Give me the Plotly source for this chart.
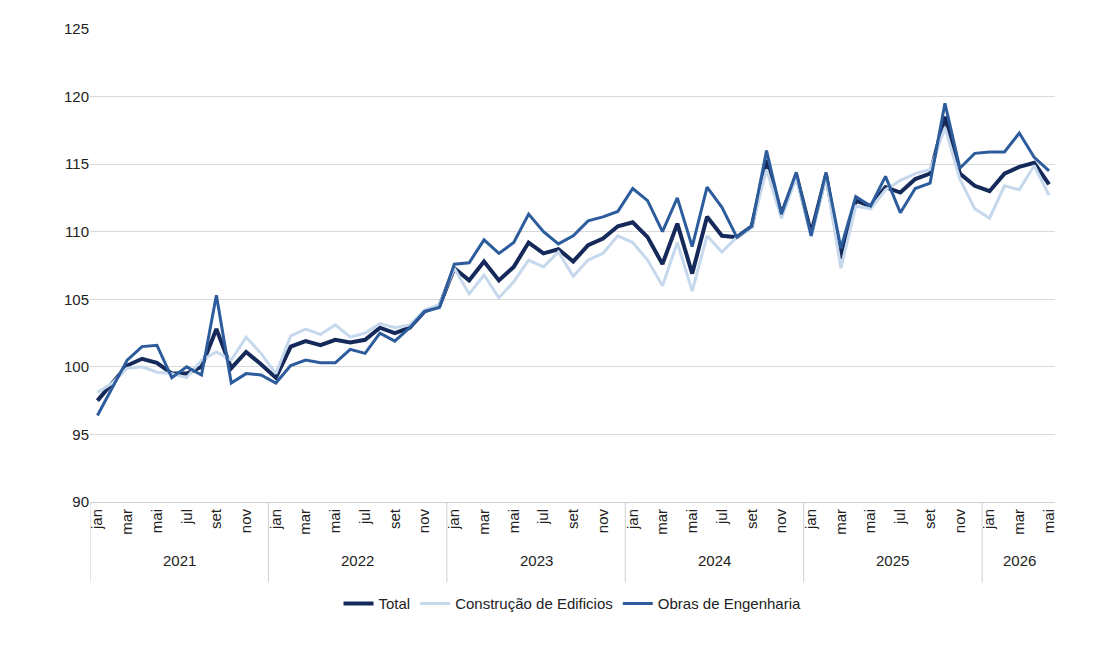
import plotly.graph_objects as go

months = ["jan", "fev", "mar", "abr", "mai", "jun", "jul", "ago", "set", "out", "nov", "dez"]
years = [2021, 2022, 2023, 2024, 2025, 2026]

total = [97.5, 98.8, 100.1, 100.6, 100.3, 99.5, 99.5, 100.0, 102.8, 99.9, 101.1, 100.2,
         99.2, 101.5, 101.9, 101.6, 102.0, 101.8, 102.0, 102.9, 102.5, 102.9, 104.1, 104.5,
         107.3, 106.4, 107.8, 106.4, 107.4, 109.2, 108.4, 108.7, 107.8, 109.0, 109.5, 110.4,
         110.7, 109.6, 107.6, 110.6, 106.9, 111.1, 109.7, 109.6, 110.4, 115.3, 111.3, 114.2,
         109.9, 114.2, 108.0, 112.3, 111.9, 113.3, 112.9, 113.9, 114.3, 118.5, 114.3, 113.4,
         113.0, 114.3, 114.8, 115.1, 113.5]
edificios = [98.1, 98.8, 99.9, 100.0, 99.6, 99.5, 99.2, 100.5, 101.1, 100.5, 102.2, 101.0,
             99.5, 102.3, 102.8, 102.4, 103.1, 102.2, 102.5, 103.2, 102.9, 103.1, 104.2, 104.6,
             107.3, 105.4, 106.8, 105.1, 106.3, 107.9, 107.4, 108.5, 106.7, 107.9, 108.4, 109.7,
             109.2, 107.9, 106.0, 109.2, 105.6, 109.7, 108.5, 109.6, 110.3, 114.6, 111.0, 114.0,
             109.6, 114.0, 107.3, 111.9, 111.7, 113.1, 113.8, 114.3, 114.6, 117.7, 113.9, 111.7,
             111.0, 113.4, 113.1, 114.9, 112.7]
obras = [96.4, 98.5, 100.5, 101.5, 101.6, 99.2, 100.0, 99.4, 105.3, 98.8, 99.5, 99.4,
         98.8, 100.1, 100.5, 100.3, 100.3, 101.3, 101.0, 102.5, 101.9, 102.9, 104.1, 104.4,
         107.6, 107.7, 109.4, 108.4, 109.2, 111.3, 110.0, 109.1, 109.7, 110.8, 111.1, 111.5,
         113.2, 112.3, 110.0, 112.5, 108.9, 113.3, 111.8, 109.6, 110.4, 116.0, 111.3, 114.4,
         109.7, 114.4, 108.8, 112.6, 111.9, 114.1, 111.4, 113.2, 113.6, 119.5, 114.7, 115.8,
         115.9, 115.9, 117.3, 115.5, 114.5]

n = len(total)
x = list(range(n))
labels = [months[i % 12] for i in range(n)]

fig = go.Figure()
fig.add_trace(go.Scatter(x=x, y=total, name="Total", mode="lines",
                         line=dict(color="#15295a", width=4)))
fig.add_trace(go.Scatter(x=x, y=edificios, name="Construção de Edificios", mode="lines",
                         line=dict(color="#c6d8ec", width=3)))
fig.add_trace(go.Scatter(x=x, y=obras, name="Obras de Engenharia", mode="lines",
                         line=dict(color="#2d5c9c", width=3)))

# year dividers and labels under the axis
for k, yr in enumerate(years):
    start = k * 12 - 0.5
    fig.add_shape(type="line", xref="x", yref="paper", x0=start, x1=start, y0=0, y1=-0.17,
                  line=dict(color="#d0d0d0", width=1))
    fig.add_annotation(x=(start + min(start + 12, n - 0.5)) / 2, y=-0.145, xref="x", yref="paper",
                       text=str(yr), showarrow=False, font=dict(size=15, color="#222"))
fig.add_shape(type="line", xref="x", yref="paper", x0=n + 0.5, x1=n + 0.5, y0=0, y1=-0.17,
              line=dict(color="#d0d0d0", width=1))

fig.update_layout(
    width=1120, height=660,
    margin=dict(l=82, r=73, t=21, b=166),
    plot_bgcolor="white", paper_bgcolor="white",
    font=dict(family="Liberation Sans, Arial", size=15, color="#222"),
    showlegend=True,
    legend=dict(orientation="h", x=0.5, xanchor="center", y=-0.18, yanchor="top",
                font=dict(size=15)),
)
fig.update_xaxes(range=[-0.5, 64.4], tickmode="array", tickvals=x[::2], ticktext=labels[::2],
                 tickangle=-90, showgrid=False, showline=True, linecolor="#d0d0d0",
                 ticks="", zeroline=False)
fig.update_yaxes(range=[90, 125], dtick=5, showgrid=True, gridcolor="#d9d9d9",
                 zeroline=False, ticks="", tickfont=dict(size=15))

fig.write_html("out.html")
